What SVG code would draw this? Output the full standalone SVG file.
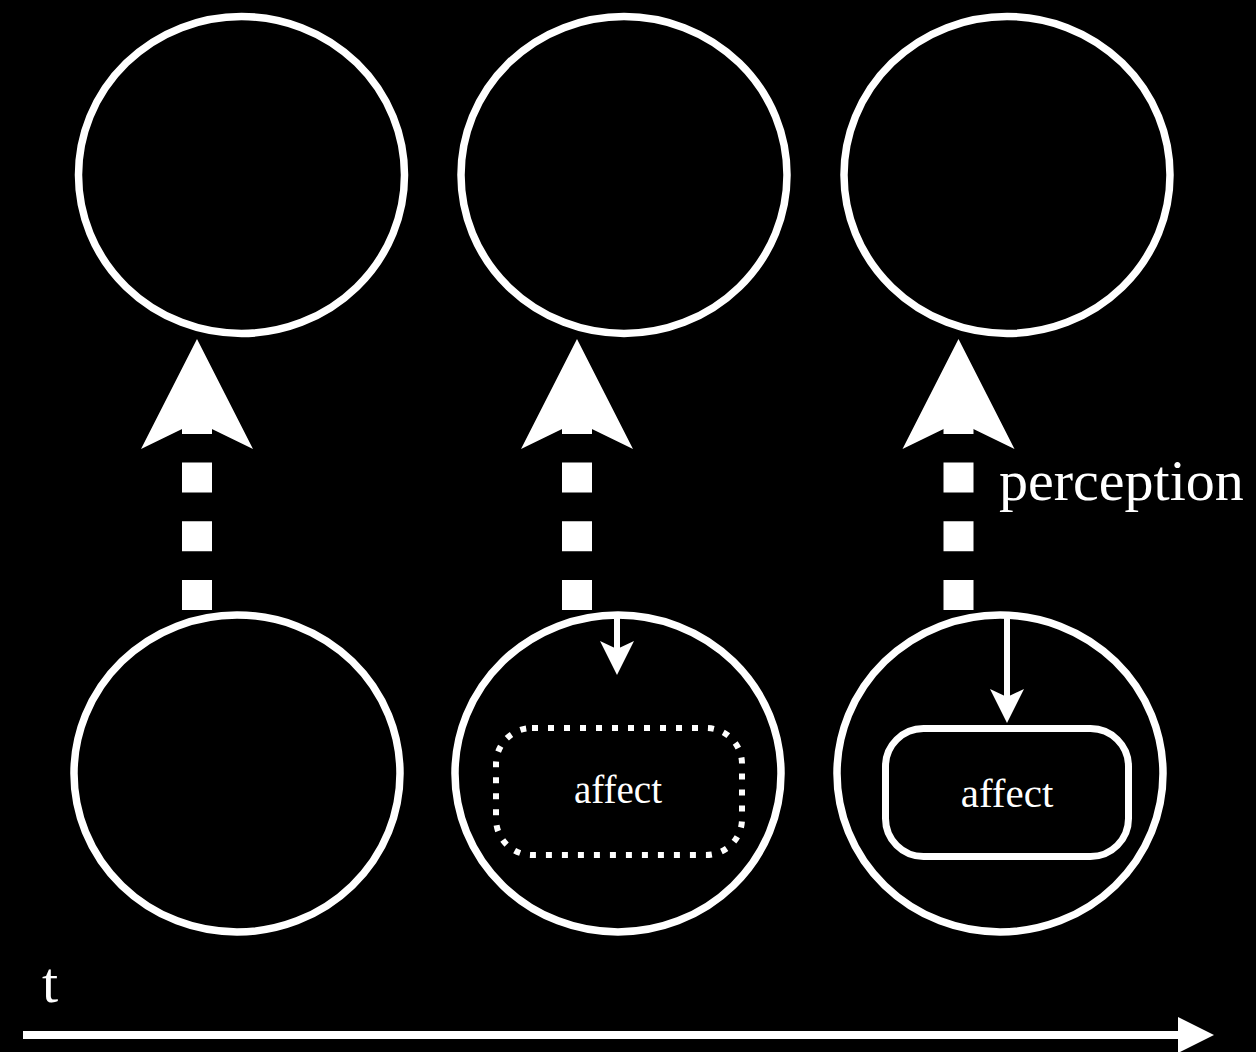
<svg xmlns="http://www.w3.org/2000/svg" width="1256" height="1052" viewBox="0 0 1256 1052">
  <style>
    .state { fill: none; stroke: #fff; stroke-width: 7.5; }
    .perc { fill: none; stroke: #fff; stroke-width: 30; stroke-dasharray: 30 28.7; }
    .aff-line { fill: none; stroke: #fff; stroke-width: 6; }
    .head { fill: #fff; }
    .label { fill: #fff; font-family: "Liberation Serif", "Times New Roman", serif; }
  </style>
  <defs>
    <!-- large notched arrowhead, tip at origin pointing up -->
    <path id="bigHead" d="M0,0 L56,110 L0,82.7 L-56,110 Z"/>
    <!-- small notched arrowhead, tip at origin pointing down -->
    <path id="smallHead" d="M0,0 L-17,-34 L0,-26 L17,-34 Z"/>
  </defs>
  <rect width="1256" height="1052" fill="#000"/>

  <!-- upper row of states -->
  <g id="top-1"><ellipse class="state" cx="241.5" cy="175" rx="163" ry="158.5"/></g>
  <g id="top-2"><ellipse class="state" cx="624" cy="175" rx="163" ry="158.5"/></g>
  <g id="top-3"><ellipse class="state" cx="1007" cy="175" rx="163" ry="158.5"/></g>

  <!-- lower row of states -->
  <g id="bottom-1"><ellipse class="state" cx="237" cy="773.5" rx="163" ry="158.5"/></g>
  <g id="bottom-2">
    <ellipse class="state" cx="618" cy="773.5" rx="163" ry="158.5"/>
    <rect x="496" y="728" width="246" height="127" rx="36" ry="36" fill="none" stroke="#fff" stroke-width="6" stroke-dasharray="6 10"/>
    <text class="label" x="618" y="803" font-size="39" text-anchor="middle">affect</text>
  </g>
  <g id="bottom-3">
    <ellipse class="state" cx="1000" cy="773.5" rx="163" ry="158.5"/>
    <rect x="885.5" y="728.5" width="243" height="128" rx="38" ry="38" fill="none" stroke="#fff" stroke-width="7"/>
    <text class="label" x="1007" y="807" font-size="41" text-anchor="middle">affect</text>
  </g>

  <!-- connectors -->
  <g id="connectors">
    <line class="perc" x1="197" y1="610" x2="197" y2="404"/>
    <use href="#bigHead" class="head" transform="translate(197,339)"/>
    <line class="perc" x1="577" y1="610" x2="577" y2="404"/>
    <use href="#bigHead" class="head" transform="translate(577,339)"/>
    <line class="perc" x1="958.5" y1="610" x2="958.5" y2="404"/>
    <use href="#bigHead" class="head" transform="translate(958.5,339)"/>

    <line class="aff-line" x1="617" y1="612" x2="617" y2="652"/>
    <use href="#smallHead" class="head" transform="translate(617,675)"/>
    <line class="aff-line" x1="1007" y1="612" x2="1007" y2="699"/>
    <use href="#smallHead" class="head" transform="translate(1007,723)"/>

    <!-- time axis -->
    <line x1="23" y1="1035" x2="1180" y2="1035" stroke="#fff" stroke-width="8"/>
    <path class="head" d="M1214,1035 L1178,1017 L1178,1053 Z"/>
  </g>

  <text class="label" x="999" y="500" font-size="58">perception</text>
  <text class="label" x="42" y="1002" font-size="58">t</text>
</svg>
